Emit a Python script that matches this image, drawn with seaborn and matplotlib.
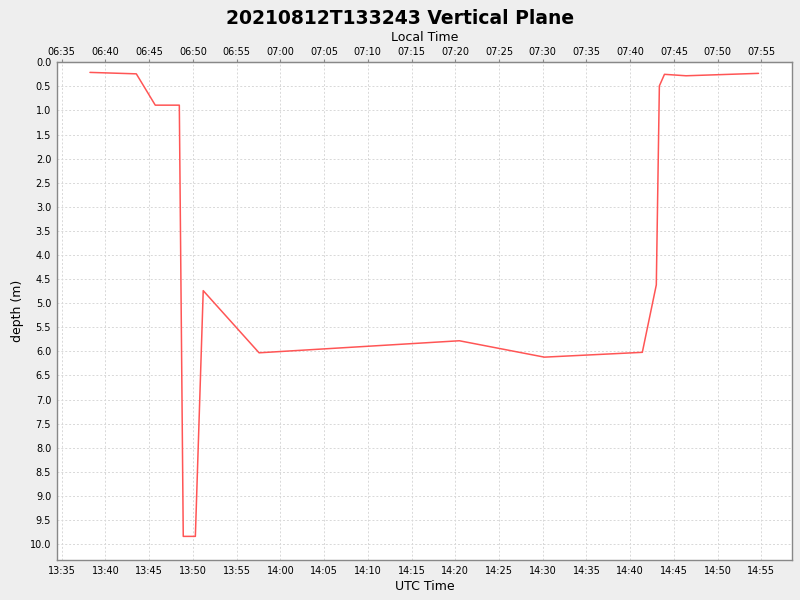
import matplotlib
matplotlib.use("Agg")
import matplotlib.pyplot as plt
import matplotlib.dates as mdates
import matplotlib.ticker as mticker
import pandas as pd
import seaborn as sns

# values
utc_times = ["13:38:14", "13:43:32", "13:45:42", "13:48:27", "13:48:54", "13:50:17",
             "13:51:11", "13:57:34", "14:20:28", "14:30:11", "14:41:23", "14:42:59",
             "14:43:20", "14:43:55", "14:46:23", "14:54:40"]
depths = [0.21, 0.24, 0.89, 0.89, 9.84, 9.84, 4.74, 6.03, 5.78, 6.12, 6.02, 4.62,
          0.49, 0.25, 0.28, 0.23]
day = "2021-08-12 "
local_offset_hours = -7

df = pd.DataFrame({"time": pd.to_datetime([day + t for t in utc_times]), "depth": depths})

sns.set_style("white")
plt.rcParams["font.family"] = ["DejaVu Sans"]
plt.rcParams["text.color"] = "black"
plt.rcParams["axes.labelcolor"] = "black"
plt.rcParams["xtick.labelcolor"] = "black"
plt.rcParams["ytick.labelcolor"] = "black"

fig = plt.figure(figsize=(8, 6), dpi=100, facecolor="#eeeeee")
ax = fig.add_axes([0.0709, 0.0667, 0.9195, 0.8295])
ax.set_facecolor("white")

sns.lineplot(data=df, x="time", y="depth", sort=False, estimator=None,
             color="#ff5555", lw=1.1, ax=ax)

ax.set_xlim(pd.Timestamp(day + "13:34:26"), pd.Timestamp(day + "14:58:32"))
ax.set_ylim(10.33, 0)
ax.yaxis.set_major_locator(mticker.MultipleLocator(0.5))
ax.yaxis.set_major_formatter(mticker.FormatStrFormatter("%.1f"))
ax.xaxis.set_major_locator(mdates.MinuteLocator(byminute=range(0, 60, 5)))
ax.xaxis.set_major_formatter(mdates.DateFormatter("%H:%M"))

ax.grid(True, color="#d8d8d8", linestyle=(0, (2, 2)), lw=0.7)
for s in ax.spines.values():
    s.set_color("#888888")
    s.set_linewidth(1)
ax.tick_params(axis="both", labelsize=7, length=2, color="#888888", labelcolor="black",
               pad=2, direction="out")

ax.set_xlabel("UTC Time", fontsize=9, labelpad=3, color="black")
ax.set_ylabel("depth (m)", fontsize=9, labelpad=4, color="black")

off = local_offset_hours / 24.0
top = ax.secondary_xaxis("top", functions=(lambda x: x + off, lambda x: x - off))
top.xaxis.set_major_locator(mdates.MinuteLocator(byminute=range(0, 60, 5)))
top.xaxis.set_major_formatter(mdates.DateFormatter("%H:%M"))
top.tick_params(labelsize=7, length=2, color="#888888", labelcolor="black", pad=2)
top.spines["top"].set_color("#888888")
top.set_xlabel("Local Time", fontsize=9, labelpad=4, color="black")

fig.suptitle("20210812T133243 Vertical Plane", fontsize=13.5, fontweight="bold",
             color="black", y=0.985)

fig.savefig("out.png", dpi=100, facecolor=fig.get_facecolor())
